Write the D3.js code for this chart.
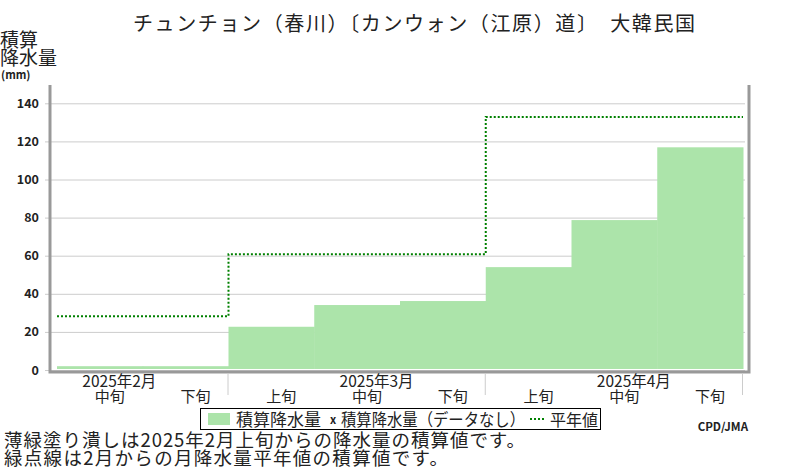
<!DOCTYPE html>
<html>
  <head>
    <meta charset="utf-8">
    <title>積算降水量 チュンチョン</title>
    <script src="https://d3js.org/d3.v7.min.js"></script>
    <style>
      body { margin: 0; background: #fff; }
      text { font-family: "Noto Sans CJK JP", sans-serif; fill: #222; }
    </style>
  </head>
  <body>
    <div id="chart"></div>
  </body>
  <script>
  // 旬ごとの積算降水量 (2月中旬〜4月下旬)
  var dekads   = ["中旬", "下旬", "上旬", "中旬", "下旬", "上旬", "中旬", "下旬"];
  var precip   = [2, 2, 22.7, 34.1, 36.2, 54, 78.7, 116.9];
  // 月ごとの平年値の積算
  var months   = ["2025年2月", "2025年3月", "2025年4月"];
  var normals  = [28.2, 60.8, 132.8];
  var yTicks   = [0, 20, 40, 60, 80, 100, 120, 140];

  var svg = d3.select("#chart")
      .append("svg")
      .attr("width", 800)
      .attr("height", 470);

  // 旬の番号: 0 = 2月上旬 (左端の外)
  var x = d3.scaleLinear().domain([1, 9]).range([57, 743]);
  var y = d3.scaleLinear().domain([0, 140]).range([370, 103.3]);

  // タイトル
  svg.append("text")
      .attr("x", 133)
      .attr("y", 31)
      .attr("font-size", "20px")
      .attr("textLength", 562)
      .attr("lengthAdjust", "spacing")
      .text("チュンチョン（春川）〔カンウォン（江原）道〕\u3000大韓民国");

  // 縦軸の見出し
  svg.append("text").attr("x", 0).attr("y", 47).attr("font-size", "19px").text("積算");
  svg.append("text").attr("x", 0).attr("y", 65).attr("font-size", "19px").text("降水量");
  svg.append("text")
      .attr("x", 1).attr("y", 78.5)
      .attr("font-family", "DejaVu Sans")
      .attr("font-weight", "bold")
      .attr("font-size", "11px")
      .text("(mm)");

  // 目盛線
  let grid = svg.append("g")
      .attr("transform", "translate(45,0)")
      .call(d3.axisLeft(y).tickValues(yTicks).tickSize(-700).tickPadding(6));
  grid.select(".domain").remove();
  grid.selectAll(".tick line").attr("stroke", "#cccccc");
  grid.selectAll(".tick text")
      .attr("font-family", "DejaVu Sans")
      .attr("font-weight", "bold")
      .attr("font-size", "12.5px")
      .attr("fill", "#333");

  // 積算降水量の棒
  svg.selectAll("rect.bar")
      .data(precip)
      .enter()
      .append("rect")
      .attr("class", "bar")
      .attr("x", (d, i) => x(i + 1))
      .attr("width", (d, i) => x(i + 2) - x(i + 1) + 0.5)
      .attr("y", (d) => y(d))
      .attr("height", (d) => y(0) - y(d) - 1)
      .attr("fill", "#ace4aa");

  // 平年値の階段線
  var steps = [];
  normals.forEach((v, m) => {
      steps.push([Math.max(m * 3, 1), v]);
      steps.push([m * 3 + 3, v]);
  });
  svg.append("path")
      .datum(steps)
      .attr("fill", "none")
      .attr("stroke", "#008000")
      .attr("stroke-width", 2)
      .attr("stroke-dasharray", "2,2")
      .attr("d", d3.line().x((d) => x(d[0])).y((d) => y(d[1])));

  // 枠
  var frame = svg.append("g").attr("stroke", "#999999").attr("stroke-width", 3).attr("fill", "none");
  frame.append("path").attr("d", "M50,85 V372 H749 V85");

  // 月の区切り
  svg.selectAll("line.sep")
      .data([3, 6, 9])
      .enter()
      .append("line")
      .attr("class", "sep")
      .attr("x1", (d) => x(d) - 0.5).attr("x2", (d) => x(d) - 0.5)
      .attr("y1", 374).attr("y2", 395)
      .attr("stroke", "#cccccc");

  // 月ラベル
  svg.selectAll("text.month")
      .data(months)
      .enter()
      .append("text")
      .attr("class", "month")
      .attr("x", (d, i) => x(i * 3 + 1.5) + 19.5)
      .attr("y", 387)
      .attr("text-anchor", "middle")
      .attr("font-size", "15.5px")
      .text((d) => d);

  // 旬ラベル
  svg.selectAll("text.dekad")
      .data(dekads)
      .enter()
      .append("text")
      .attr("class", "dekad")
      .attr("x", (d, i) => x(i + 1.5) + 10)
      .attr("y", 402)
      .attr("text-anchor", "middle")
      .attr("font-size", "15px")
      .text((d) => d);

  // 凡例
  let legend = svg.append("g");
  legend.append("rect")
      .attr("x", 200.5).attr("y", 408.5).attr("width", 400).attr("height", 21)
      .attr("fill", "#fff").attr("stroke", "#000");
  legend.append("rect")
      .attr("x", 208).attr("y", 413).attr("width", 22).attr("height", 12)
      .attr("fill", "#ace4aa");
  legend.append("text").attr("x", 236).attr("y", 425.5).attr("font-size", "17px").text("積算降水量");
  legend.append("text")
      .attr("x", 330).attr("y", 424)
      .attr("font-family", "DejaVu Sans")
      .attr("font-weight", "bold")
      .attr("font-size", "11px")
      .text("x");
  legend.append("text")
      .attr("x", 341).attr("y", 425.5)
      .attr("font-size", "17px")
      .attr("textLength", 184)
      .attr("lengthAdjust", "spacingAndGlyphs")
      .text("積算降水量（データなし）");
  legend.append("line")
      .attr("x1", 530).attr("x2", 546).attr("y1", 419).attr("y2", 419)
      .attr("stroke", "#008000").attr("stroke-width", 2).attr("stroke-dasharray", "2,2");
  legend.append("text").attr("x", 550).attr("y", 425.5).attr("font-size", "16px").text("平年値");

  svg.append("text")
      .attr("x", 748).attr("y", 431)
      .attr("text-anchor", "end")
      .attr("font-family", "DejaVu Sans Mono")
      .attr("font-weight", "bold")
      .attr("font-size", "11.5px")
      .text("CPD/JMA");

  // 注記
  svg.append("text").attr("x", 4).attr("y", 447).attr("font-size", "18.5px")
      .attr("textLength", 521).attr("lengthAdjust", "spacing")
      .text("薄緑塗り潰しは2025年2月上旬からの降水量の積算値です。");
  svg.append("text").attr("x", 4).attr("y", 465).attr("font-size", "18.5px")
      .attr("textLength", 444).attr("lengthAdjust", "spacing")
      .text("緑点線は2月からの月降水量平年値の積算値です。");
  </script>
</html>
